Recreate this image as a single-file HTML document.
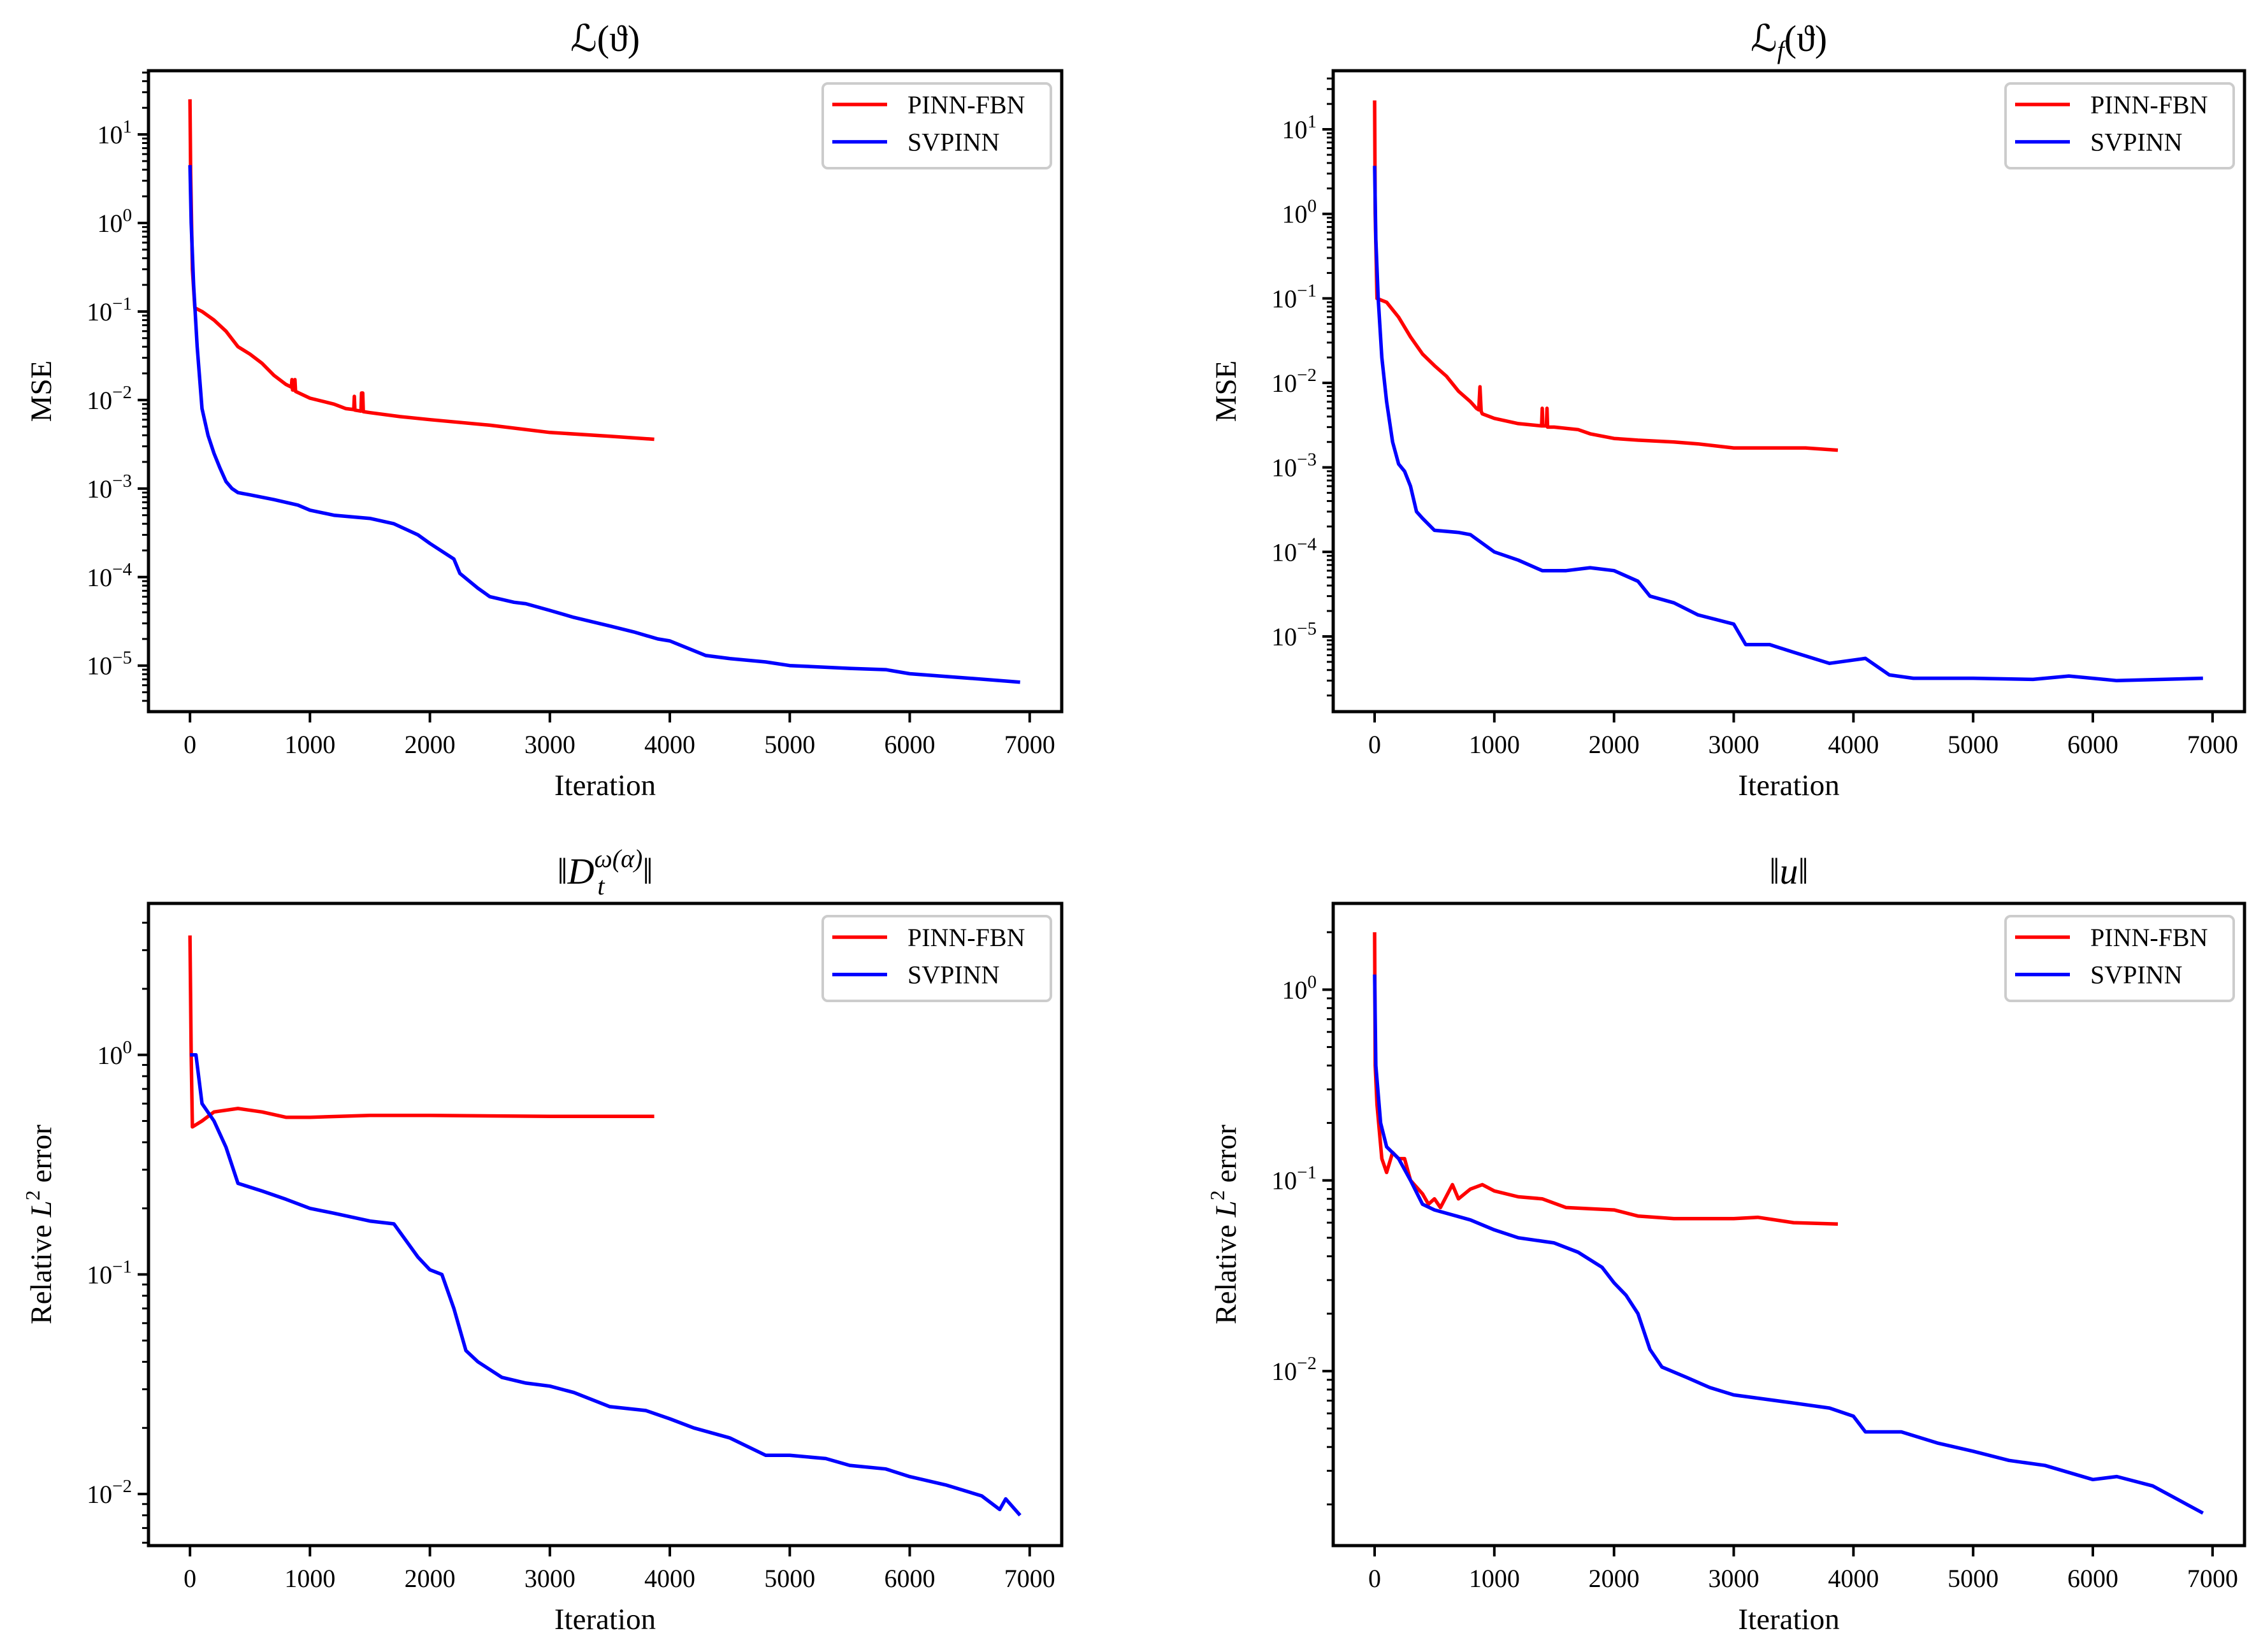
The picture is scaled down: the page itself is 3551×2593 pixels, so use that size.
<!DOCTYPE html>
<html><head><meta charset="utf-8"><style>
html,body{margin:0;padding:0;background:#fff;}
svg{display:block;font-family:"Liberation Serif",serif;}
</style></head><body>
<svg id="fig" width="3551" height="2593" viewBox="0 0 3551 2593" xmlns="http://www.w3.org/2000/svg"></svg>
<script>
// ---- data (iteration, value) ----
const tlRedIter=[0,5,20,40,100,200,300,400,500,600,700,800,845,850,855,870,875,880,1000,1200,1300,1365,1370,1375,1425,1430,1440,1445,1500,1750,2000,2500,3000,3500,3870];
const tlRedVal=[25,4,0.3,0.11,0.1,0.08,0.06,0.04,0.033,0.026,0.019,0.015,0.014,0.017,0.013,0.013,0.017,0.0125,0.0105,0.009,0.008,0.0078,0.011,0.0077,0.0075,0.012,0.012,0.0074,0.0072,0.0065,0.006,0.0052,0.0043,0.0039,0.0036];
const tlBlueIter=[0,10,30,60,100,150,200,250,300,350,400,500,700,900,1000,1200,1500,1700,1900,2000,2200,2250,2400,2500,2700,2800,3000,3200,3500,3700,3900,4000,4300,4500,4800,5000,5500,5800,6000,6500,6920];
const tlBlueVal=[4.5,1,0.2,0.04,0.008,0.004,0.0025,0.0017,0.0012,0.001,0.0009,0.00085,0.00075,0.00065,0.00057,0.0005,0.00046,0.0004,0.0003,0.00024,0.00016,0.00011,0.000075,0.00006,0.000052,0.00005,0.000042,0.000035,0.000028,0.000024,0.00002,0.000019,0.000013,0.000012,0.000011,0.00001,0.0000093,0.000009,0.0000081,0.0000072,0.0000065];

const trRedIter=[0,5,20,100,200,300,400,500,600,700,800,850,870,880,890,900,1000,1200,1395,1400,1405,1435,1440,1445,1500,1700,1800,2000,2200,2500,2700,3000,3300,3600,3870];
const trRedVal=[22,1,0.1,0.09,0.06,0.035,0.022,0.016,0.012,0.008,0.006,0.005,0.0048,0.009,0.0046,0.0043,0.0038,0.0033,0.0031,0.005,0.0031,0.0031,0.005,0.003,0.003,0.0028,0.0025,0.0022,0.0021,0.002,0.0019,0.0017,0.0017,0.0017,0.0016];
const trBlueIter=[0,10,30,60,100,150,200,250,300,350,400,500,700,800,1000,1200,1400,1600,1800,2000,2200,2300,2500,2700,3000,3100,3300,3500,3800,4100,4300,4500,5000,5500,5800,6200,6920];
const trBlueVal=[3.7,0.5,0.1,0.02,0.006,0.002,0.0011,0.0009,0.0006,0.0003,0.00025,0.00018,0.00017,0.00016,0.0001,0.00008,0.00006,0.00006,0.000065,0.00006,0.000045,0.00003,0.000025,0.000018,0.000014,0.000008,0.000008,0.0000065,0.0000048,0.0000055,0.0000035,0.0000032,0.0000032,0.0000031,0.0000034,0.000003,0.0000032];

const blRedIter=[0,10,20,100,200,400,600,800,1000,1500,2000,3000,3870];
const blRedVal=[3.5,1,0.47,0.5,0.55,0.57,0.55,0.52,0.52,0.53,0.53,0.525,0.525];
const blBlueIter=[0,50,100,200,300,400,600,800,1000,1200,1500,1700,1900,2000,2100,2200,2300,2400,2600,2800,3000,3200,3500,3800,4000,4200,4500,4800,5000,5300,5500,5800,6000,6300,6600,6750,6800,6920];
const blBlueVal=[1.0,1.0,0.6,0.5,0.38,0.26,0.24,0.22,0.2,0.19,0.175,0.17,0.12,0.105,0.1,0.07,0.045,0.04,0.034,0.032,0.031,0.029,0.025,0.024,0.022,0.02,0.018,0.015,0.015,0.0145,0.0135,0.013,0.012,0.011,0.0098,0.0085,0.0095,0.008];

const brRedIter=[0,5,20,60,100,150,200,250,300,400,450,500,550,650,700,800,900,1000,1200,1400,1600,2000,2200,2500,3000,3200,3500,3870];
const brRedVal=[2.0,0.4,0.25,0.13,0.11,0.14,0.13,0.13,0.1,0.085,0.075,0.08,0.072,0.095,0.08,0.09,0.095,0.088,0.082,0.08,0.072,0.07,0.065,0.063,0.063,0.064,0.06,0.059];
const brBlueIter=[0,10,50,100,200,300,400,500,800,1000,1200,1500,1700,1900,2000,2100,2200,2300,2400,2600,2800,3000,3500,3800,4000,4100,4400,4700,5000,5300,5600,6000,6200,6500,6920];
const brBlueVal=[1.2,0.4,0.2,0.15,0.13,0.1,0.075,0.07,0.062,0.055,0.05,0.047,0.042,0.035,0.029,0.025,0.02,0.013,0.0105,0.0093,0.0082,0.0075,0.0068,0.0064,0.0058,0.0048,0.0048,0.0042,0.0038,0.0034,0.0032,0.0027,0.0028,0.0025,0.0018];

const xTicks=[0,1000,2000,3000,4000,5000,6000,7000];
const seriesNames=["PINN-FBN","SVPINN"];

// ---- layout ----
const NS="http://www.w3.org/2000/svg";
const svg=document.getElementById('fig');
function el(tag,attrs,parent){const e=document.createElementNS(NS,tag);for(const k in attrs)e.setAttribute(k,attrs[k]);(parent||svg).appendChild(e);return e;}

const panels=[
 {key:'tl',L:233,T:111,W:1433,H:1006,ymin:-5.52,ymax:1.72,title:'tl',ylab:'MSE',red:[tlRedIter,tlRedVal],blue:[tlBlueIter,tlBlueVal]},
 {key:'tr',L:2092,T:111,W:1430,H:1006,ymin:-5.89,ymax:1.694,title:'tr',ylab:'MSE',red:[trRedIter,trRedVal],blue:[trBlueIter,trBlueVal]},
 {key:'bl',L:233,T:1418,W:1433,H:1008,ymin:-2.235,ymax:0.69,title:'bl',ylab:'rel',red:[blRedIter,blRedVal],blue:[blBlueIter,blBlueVal]},
 {key:'br',L:2092,T:1418,W:1430,H:1008,ymin:-2.915,ymax:0.452,title:'br',ylab:'rel',red:[brRedIter,brRedVal],blue:[brBlueIter,brBlueVal]}
];
const XMIN=-346,XMAX=7267;

panels.forEach(p=>{
 const g=el('g',{});
 
 
 const sx=v=>p.L+(v-XMIN)/(XMAX-XMIN)*p.W;
 const sy=v=>p.T+(p.ymax-Math.log10(v))/(p.ymax-p.ymin)*p.H;
 const B=p.T+p.H, R=p.L+p.W;
 const cp=el('clipPath',{id:'clip-'+p.key},g);
 el('rect',{x:p.L,y:p.T,width:p.W,height:p.H},cp);
 [['red','#ff0000',p.red,0],['blue','#0000ff',p.blue,1]].forEach(([nm,col,d,i])=>{
  const pts=d[0].map((x,j)=>sx(x).toFixed(1)+','+sy(d[1][j]).toFixed(1)).join(' ');
  const pl=el('polyline',{points:pts,fill:'none',stroke:col,'stroke-width':5.5,'stroke-linejoin':'round','clip-path':'url(#clip-'+p.key+')'},g);
  
  
 });
 const lo=Math.floor(p.ymin), hi=Math.ceil(p.ymax);
 for(let k=lo;k<=hi;k++){
  for(let m=1;m<10;m++){
   const v=Math.log10(m)+k;
   if(v<p.ymin||v>p.ymax)continue;
   const y=sy(Math.pow(10,v));
   const len=m===1?17:10;
   el('line',{x1:p.L-len,x2:p.L,y1:y,y2:y,stroke:'#000','stroke-width':m===1?4:3},g);
   if(m===1){
    const t=el('text',{x:p.L-26,y:y+14,'text-anchor':'end','font-size':40},g);
    
    
    t.appendChild(document.createTextNode('10'));
    const s=el('tspan',{dy:-17,'font-size':29},t);
    s.textContent=(k<0?'\u2212':'')+Math.abs(k);
   }
  }
 }
 xTicks.forEach(v=>{
  const x=sx(v);
  el('line',{x1:x,x2:x,y1:B,y2:B+17,stroke:'#000','stroke-width':4},g);
  const t=el('text',{x:x,y:B+65,'text-anchor':'middle','font-size':40},g);
  
  
  t.textContent=v;
 });
 const fr=el('rect',{x:p.L,y:p.T,width:p.W,height:p.H,fill:'none',stroke:'#000','stroke-width':5},g);
 
 
 const xl=el('text',{x:p.L+p.W/2,y:B+131,'text-anchor':'middle','font-size':47},g);
 
 
 xl.textContent='Iteration';
 const yl=el('text',{x:0,y:0,'text-anchor':'middle','font-size':47,transform:'translate('+(p.L-153)+','+(p.T+p.H/2)+') rotate(-90)'},g);
 
 
 if(p.ylab==='MSE'){yl.textContent='MSE';}
 else{
  yl.appendChild(document.createTextNode('Relative '));
  const a=el('tspan',{'font-style':'italic'},yl);a.textContent='L';
  const b=el('tspan',{dy:-18,'font-size':32},yl);b.textContent='2';
  const c=el('tspan',{dy:18},yl);c.textContent=' error';
 }
 const tt=el('text',{x:p.L+p.W/2,y:p.T-31,'text-anchor':'middle','font-size':58},g);
 
 
 if(p.title==='tl'){tt.textContent='\u2112(\u03D1)';}
 else if(p.title==='tr'){
  tt.appendChild(document.createTextNode('\u2112'));
  const s=el('tspan',{dy:12,'font-size':40,'font-style':'italic'},tt);s.textContent='f';
  const s2=el('tspan',{dy:-12},tt);s2.textContent='(\u03D1)';
 } else if(p.title==='bl'){
  tt.appendChild(document.createTextNode('\u2016'));
  const d=el('tspan',{'font-style':'italic'},tt);d.textContent='D';
  const s=el('tspan',{dy:-26,'font-size':40,'font-style':'italic'},tt);s.textContent='\u03C9(\u03B1)';
  const s3=el('tspan',{dy:26,'font-size':58},tt);s3.textContent='\u2016';
  const tsub=el('text',{x:p.L+p.W/2-12,y:p.T-14,'font-size':40,'font-style':'italic'},g);tsub.textContent='t';
 } else {
  tt.appendChild(document.createTextNode('\u2016'));
  const u=el('tspan',{'font-style':'italic'},tt);u.textContent='u';
  const e=el('tspan',{},tt);e.textContent='\u2016';
 }
 const lg=el('g',{},g);
 
 
 el('rect',{x:R-375,y:p.T+20,width:358,height:133,rx:8,fill:'#fff',stroke:'#cccccc','stroke-width':4},lg);
 ['#ff0000','#0000ff'].forEach((c,i)=>{
  const y=p.T+53+i*58.6;
  el('line',{x1:R-360,x2:R-274,y1:y,y2:y,stroke:c,'stroke-width':5.5},lg);
  const t=el('text',{x:R-242,y:y+14,'font-size':40},lg);
  
  
  t.textContent=seriesNames[i];
 });
});
</script>
</body></html>
